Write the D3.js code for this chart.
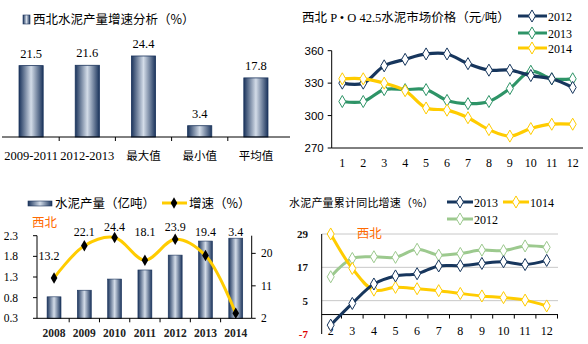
<!DOCTYPE html>
<html><head><meta charset="utf-8">
<script src="https://cdn.jsdelivr.net/npm/d3@7"></script>
<style>body{margin:0;background:#fff}svg{display:block}</style>
</head><body><svg width="588" height="344"></svg>
<script>
// ---- data ----
const p1Cats = ["2009-2011", "2012-2013", "最大值", "最小值", "平均值"];
const p1Vals = [21.5, 21.6, 24.4, 3.4, 17.8];

const months = [1, 2, 3, 4, 5, 6, 7, 8, 9, 10, 11, 12];
const price2012 = [330, 330, 346, 352, 357, 357, 348, 342, 342, 337, 334, 326];
const price2013 = [313, 313, 324, 324, 324, 314, 311, 313, 325, 341, 334, 334];
const price2014 = [334, 334, 330, 323, 307, 305, 298, 287, 281, 288, 292, 292];
const priceTicks = [270, 300, 330, 360];

const years = ["2008", "2009", "2010", "2011", "2012", "2013", "2014"];
const output = [0.82, 0.98, 1.25, 1.47, 1.83, 2.17, 2.24];
const growth = [13.2, 22.1, 24.4, 18.1, 23.9, 19.4, 3.4];
const outTicks = [0.3, 0.8, 1.3, 1.8, 2.3];
const growthTicks = [2, 11, 20];

const cumMonths = [2, 3, 4, 5, 6, 7, 8, 9, 10, 11, 12];
const cum2013 = [-3.8, 4, 11, 13.9, 14.7, 17.5, 17.6, 18.4, 19, 18, 19.5];
const cum1014 = [29, 16.6, 8.8, 9.8, 9.3, 8.6, 7.6, 6.7, 6.1, 5.2, 3.1];
const cum2012 = [13.6, 20.2, 20.8, 20.6, 23.5, 21.4, 22, 23.2, 23, 24.7, 24.2];
const cumTicks = [-7, 5, 17, 29];

// ---- style ----
const SERIF = "'Liberation Serif','Noto Sans CJK SC',serif";
const CJK = "'Noto Sans CJK SC','Noto Sans',sans-serif";
const SANS = "'Liberation Sans','Noto Sans CJK SC',sans-serif";
const NAVY = "#17365d", GREEN = "#2e9467", YELLOW = "#ffcc00", LGREEN = "#9cc98e", ORANGE = "#ff6a00";

const svg = d3.select("svg");
const defs = svg.append("defs");
const grad = defs.append("linearGradient").attr("id", "barGrad").attr("x1", "0%").attr("x2", "100%").attr("y1", "0%").attr("y2", "0%");
grad.append("stop").attr("offset", "0%").attr("stop-color", "#1b345c");
grad.append("stop").attr("offset", "50%").attr("stop-color", "#d3dce8");
grad.append("stop").attr("offset", "100%").attr("stop-color", "#1b345c");

const diamond = d3.symbol().type(d3.symbolDiamond).size(42);
const curve = d3.curveCatmullRom.alpha(0.5);

// ================= Panel 1 =================
{
  const base = 137;
  const x = d3.scaleBand().domain(p1Cats).range([3, 284]);
  const y = d3.scaleLinear().domain([0, 30]).range([base, base - 99.6]);
  const g = svg.append("g");
  const bw = x.bandwidth() * 0.43;
  g.selectAll("rect.b").data(p1Vals).join("rect")
    .attr("x", (d, i) => x(p1Cats[i]) + x.bandwidth() / 2 - bw / 2)
    .attr("y", d => y(d)).attr("width", bw).attr("height", d => base - y(d))
    .attr("fill", "url(#barGrad)").attr("stroke", "#1b345c").attr("stroke-width", 0.8);
  g.append("line").attr("x1", 2).attr("x2", 290).attr("y1", base).attr("y2", base).attr("stroke", "#000");
  p1Cats.slice(1).forEach(c => g.append("line").attr("x1", x(c)).attr("x2", x(c)).attr("y1", base).attr("y2", base + 4).attr("stroke", "#000"));
  g.selectAll("text.v").data(p1Vals).join("text")
    .attr("x", (d, i) => x(p1Cats[i]) + x.bandwidth() / 2).attr("y", d => y(d) - 8)
    .attr("text-anchor", "middle").attr("font-family", SERIF).attr("font-size", 12.5).text(d => d.toFixed(1));
  g.selectAll("text.c").data(p1Cats).join("text")
    .attr("x", d => x(d) + x.bandwidth() / 2).attr("y", 160)
    .attr("text-anchor", "middle").attr("font-family", SERIF).attr("font-size", d => /\d/.test(d) ? 12.5 : 11.5).text(d => d);
  g.append("rect").attr("x", 23).attr("y", 15).attr("width", 7).attr("height", 9).attr("fill", "url(#barGrad)").attr("stroke", "#1b345c").attr("stroke-width", 0.6);
  g.append("text").attr("x", 33).attr("y", 24).attr("font-family", CJK).attr("font-size", 12.5).text("西北水泥产量增速分析（%）");
}

// ================= Panel 2 =================
{
  const x = d3.scalePoint().domain(months).range([342.3, 572.7]);
  const y = d3.scaleLinear().domain([270, 360]).range([148, 50.7]);
  const g = svg.append("g");
  const ax = 331.7;
  g.append("line").attr("x1", ax).attr("x2", ax).attr("y1", y(360)).attr("y2", y(270)).attr("stroke", "#000");
  g.append("line").attr("x1", ax).attr("x2", 583).attr("y1", y(270)).attr("y2", y(270)).attr("stroke", "#000");
  priceTicks.forEach(t => {
    g.append("line").attr("x1", ax - 4).attr("x2", ax).attr("y1", y(t)).attr("y2", y(t)).attr("stroke", "#000");
    g.append("text").attr("x", ax - 8).attr("y", y(t) + 4).attr("text-anchor", "end").attr("font-family", SANS).attr("font-size", 11.5).text(t);
  });
  months.forEach(m => g.append("text").attr("x", x(m)).attr("y", 167).attr("text-anchor", "middle").attr("font-family", SERIF).attr("font-size", 12).text(m));
  const series = [[price2013, GREEN], [price2012, NAVY], [price2014, YELLOW]];
  const line = d3.line().x((d, i) => x(months[i])).y(d => y(d)).curve(curve);
  series.forEach(([vals, col]) => {
    g.append("path").attr("d", line(vals)).attr("fill", "none").attr("stroke", col).attr("stroke-width", 3.2);
  });
  series.forEach(([vals, col]) => {
    g.selectAll(null).data(vals).join("path").attr("d", diamond)
      .attr("transform", (d, i) => `translate(${x(months[i])},${y(d)})`)
      .attr("fill", "#fff").attr("stroke", col).attr("stroke-width", 1);
  });
  const leg = [["2012", NAVY, 16], ["2013", GREEN, 33], ["2014", YELLOW, 48]];
  leg.forEach(([t, c, ly]) => {
    g.append("line").attr("x1", 518).attr("x2", 547).attr("y1", ly).attr("y2", ly).attr("stroke", c).attr("stroke-width", 3);
    g.append("path").attr("d", diamond).attr("transform", `translate(532,${ly})`).attr("fill", "#fff").attr("stroke", c);
    g.append("text").attr("x", 548).attr("y", ly + 4.5).attr("font-family", SERIF).attr("font-size", 12).text(t);
  });
  g.append("text").attr("x", 302).attr("y", 22).attr("font-family", SERIF).attr("font-size", 12.5).text("西北 P • O 42.5水泥市场价格（元/吨）");
}

// ================= Panel 3 =================
{
  const x = d3.scaleBand().domain(years).range([38.9, 250.9]);
  const yL = d3.scaleLinear().domain([0.3, 2.3]).range([318.3, 235.7]);
  const yR = d3.scaleLinear().domain([2, 24.9]).range([318.3, 235.7]);
  const g = svg.append("g");
  const lx = 37, rx = 251.7, by = 318.3;
  const bw = x.bandwidth() * 0.46;
  g.selectAll("rect.b").data(output).join("rect")
    .attr("x", (d, i) => x(years[i]) + x.bandwidth() / 2 - bw / 2)
    .attr("y", d => yL(d)).attr("width", bw).attr("height", d => by - yL(d))
    .attr("fill", "url(#barGrad)").attr("stroke", "#1b345c").attr("stroke-width", 0.6);
  g.append("line").attr("x1", lx).attr("x2", lx).attr("y1", 235.7).attr("y2", by).attr("stroke", "#000");
  g.append("line").attr("x1", rx).attr("x2", rx).attr("y1", 235.7).attr("y2", by).attr("stroke", "#000");
  g.append("line").attr("x1", lx).attr("x2", rx).attr("y1", by).attr("y2", by).attr("stroke", "#000");
  years.slice(1).forEach(c => g.append("line").attr("x1", x(c)).attr("x2", x(c)).attr("y1", by).attr("y2", by + 4).attr("stroke", "#000"));
  outTicks.forEach(t => {
    g.append("line").attr("x1", lx - 4).attr("x2", lx).attr("y1", yL(t)).attr("y2", yL(t)).attr("stroke", "#000");
    g.append("text").attr("x", 18).attr("y", yL(t) + 4).attr("text-anchor", "end").attr("font-family", SERIF).attr("font-size", 11.5).text(t.toFixed(1));
  });
  growthTicks.forEach(t => {
    g.append("line").attr("x1", rx).attr("x2", rx + 4).attr("y1", yR(t)).attr("y2", yR(t)).attr("stroke", "#000");
    g.append("text").attr("x", 261).attr("y", yR(t) + 4).attr("font-family", SERIF).attr("font-size", 11.5).text(t);
  });
  years.forEach(c => g.append("text").attr("x", x(c) + x.bandwidth() / 2).attr("y", 337).attr("text-anchor", "middle")
    .attr("font-family", SERIF).attr("font-size", 11.5).attr("font-weight", "bold").attr("fill", "#222").text(c));
  const cx = i => x(years[i]) + x.bandwidth() / 2;
  const line = d3.line().x((d, i) => cx(i)).y(d => yR(d)).curve(curve);
  g.append("path").attr("d", line(growth)).attr("fill", "none").attr("stroke", YELLOW).attr("stroke-width", 3);
  g.selectAll(null).data(growth).join("path").attr("d", d3.symbol().type(d3.symbolDiamond).size(38))
    .attr("transform", (d, i) => `translate(${cx(i)},${yR(d)})`).attr("fill", "#000");
  const labelY = (d, i) => i === 0 ? yR(d) - 18 : Math.min(Math.max(yR(d) - 10, 231), 236);
  g.selectAll(null).data(growth).join("text")
    .attr("x", (d, i) => cx(i) - (i === 0 ? 5 : 0)).attr("y", labelY)
    .attr("text-anchor", "middle").attr("font-family", SERIF).attr("font-size", 12).text(d => d.toFixed(1));
  // legend
  g.append("rect").attr("x", 28).attr("y", 201).attr("width", 24).attr("height", 5).attr("fill", "url(#barGrad)").attr("stroke", "#1b345c").attr("stroke-width", 0.6);
  g.append("text").attr("x", 55).attr("y", 208).attr("font-family", CJK).attr("font-size", 12.5).text("水泥产量（亿吨）");
  g.append("line").attr("x1", 162).attr("x2", 187).attr("y1", 203).attr("y2", 203).attr("stroke", YELLOW).attr("stroke-width", 3);
  g.append("path").attr("d", d3.symbol().type(d3.symbolDiamond).size(38)).attr("transform", "translate(174,203)").attr("fill", "#000");
  g.append("text").attr("x", 189).attr("y", 208).attr("font-family", CJK).attr("font-size", 12.5).text("增速（%）");
  g.append("text").attr("x", 32).attr("y", 227).attr("font-family", CJK).attr("font-size", 12.5).attr("fill", ORANGE).text("西北");
}

// ================= Panel 4 =================
{
  const x = d3.scalePoint().domain(cumMonths).range([330.7, 546.7]);
  const y = d3.scaleLinear().domain([-7, 29]).range([334, 234]);
  const g = svg.append("g");
  const ax = 321.7, right = 558;
  cumTicks.filter(t => t > -7).forEach(t => g.append("line").attr("x1", ax).attr("x2", right).attr("y1", y(t)).attr("y2", y(t)).attr("stroke", "#c8c8c8"));
  g.append("line").attr("x1", ax).attr("x2", ax).attr("y1", y(29)).attr("y2", y(-7)).attr("stroke", "#000");
  g.append("line").attr("x1", ax).attr("x2", right).attr("y1", y(0)).attr("y2", y(0)).attr("stroke", "#000");
  const step = x.step();
  cumMonths.forEach(m => g.append("line").attr("x1", x(m) + step / 2).attr("x2", x(m) + step / 2).attr("y1", y(0)).attr("y2", y(0) + 4).attr("stroke", "#000"));
  cumTicks.forEach(t => g.append("text").attr("x", 308).attr("y", y(t) + 4).attr("text-anchor", "end").attr("font-family", SERIF)
    .attr("font-size", 11).attr("font-weight", "bold").attr("fill", t < 0 ? "#e00000" : "#111").text(t));
  cumMonths.forEach(m => g.append("text").attr("x", x(m)).attr("y", 335).attr("text-anchor", "middle").attr("font-family", SERIF).attr("font-size", 12).text(m));
  const line = d3.line().x((d, i) => x(cumMonths[i])).y(d => y(d)).curve(curve);
  const series = [[cum2012, LGREEN], [cum1014, YELLOW], [cum2013, NAVY]];
  series.forEach(([vals, col]) => g.append("path").attr("d", line(vals)).attr("fill", "none").attr("stroke", col).attr("stroke-width", 3));
  series.forEach(([vals, col]) => g.selectAll(null).data(vals).join("path").attr("d", diamond)
    .attr("transform", (d, i) => `translate(${x(cumMonths[i])},${y(d)})`).attr("fill", "#fff").attr("stroke", col).attr("stroke-width", 1));
  const leg = [["2013", NAVY, 447, 202], ["1014", YELLOW, 503, 202], ["2012", LGREEN, 447, 219]];
  leg.forEach(([t, c, lx, ly]) => {
    g.append("line").attr("x1", lx).attr("x2", lx + 26).attr("y1", ly).attr("y2", ly).attr("stroke", c).attr("stroke-width", 3);
    g.append("path").attr("d", diamond).attr("transform", `translate(${lx + 13},${ly})`).attr("fill", "#fff").attr("stroke", c);
    g.append("text").attr("x", lx + 27).attr("y", ly + 4.5).attr("font-family", SERIF).attr("font-size", 12).text(t);
  });
  g.append("text").attr("x", 289).attr("y", 207).attr("font-family", CJK).attr("font-size", 11).attr("letter-spacing", 0.2).text("水泥产量累计同比增速（%）");
  g.append("text").attr("x", 356.7).attr("y", 238).attr("font-family", CJK).attr("font-size", 12.5).attr("fill", ORANGE).text("西北");
}
</script></body></html>
